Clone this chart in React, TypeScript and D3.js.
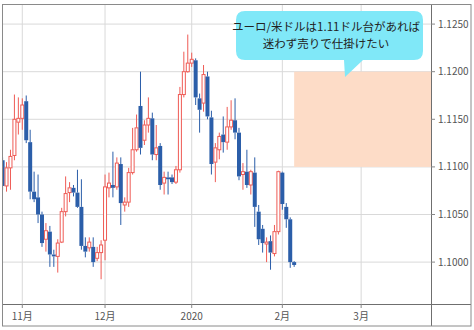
import React from "react";
import * as d3 from "d3";

// ---- data (EUR/USD daily) ----
const dates = [
  "2019-10-25","2019-10-28","2019-10-29","2019-10-30","2019-10-31","2019-11-01","2019-11-04","2019-11-05","2019-11-06","2019-11-07",
  "2019-11-08","2019-11-11","2019-11-12","2019-11-13","2019-11-14","2019-11-15","2019-11-18","2019-11-19","2019-11-20","2019-11-21",
  "2019-11-22","2019-11-25","2019-11-26","2019-11-27","2019-11-28","2019-11-29","2019-12-02","2019-12-03","2019-12-04","2019-12-05",
  "2019-12-06","2019-12-09","2019-12-10","2019-12-11","2019-12-12","2019-12-13","2019-12-16","2019-12-17","2019-12-18","2019-12-19",
  "2019-12-20","2019-12-23","2019-12-24","2019-12-25","2019-12-26","2019-12-27","2019-12-30","2019-12-31","2020-01-01","2020-01-02",
  "2020-01-03","2020-01-06","2020-01-07","2020-01-08","2020-01-09","2020-01-10","2020-01-13","2020-01-14","2020-01-15","2020-01-16",
  "2020-01-17","2020-01-20","2020-01-21","2020-01-22","2020-01-23","2020-01-24","2020-01-27","2020-01-28","2020-01-29","2020-01-30",
  "2020-01-31","2020-02-03","2020-02-04","2020-02-05","2020-02-06",
];
const opens = [
  1.1107,1.1080,1.1099,1.1112,1.1147,1.1151,1.1169,1.1126,1.1074,1.1068,
  1.1050,1.1024,1.1032,1.1008,1.1006,1.1021,1.1053,1.1073,1.1078,1.1073,
  1.1058,1.1017,1.1015,1.1016,1.1004,1.1010,1.1023,1.1078,1.1081,1.1079,
  1.1103,1.1060,1.1063,1.1094,1.1118,1.1164,1.1128,1.1144,1.1151,1.1113,
  1.1122,1.1083,1.1089,1.1089,1.1084,1.1097,1.1176,1.1200,1.1209,1.1212,
  1.1172,1.1167,1.1195,1.1152,1.1105,1.1118,1.1134,1.1126,1.1142,1.1149,
  1.1136,1.1092,1.1095,1.1081,1.1094,1.1053,1.1035,1.1019,1.1022,1.1009,
  1.1032,1.1094,1.1058,1.1045,1.1000,
];
const highs = [
  1.1110,1.1105,1.1118,1.1176,1.1173,1.1172,1.1175,1.1139,1.1095,1.1092,
  1.1053,1.1041,1.1038,1.1013,1.1024,1.1057,1.1090,1.1084,1.1081,1.1097,
  1.1087,1.1026,1.1026,1.1026,1.1016,1.1023,1.1092,1.1094,1.1116,1.1110,
  1.1110,1.1068,1.1099,1.1141,1.1155,1.1200,1.1149,1.1173,1.1157,1.1144,
  1.1125,1.1095,1.1095,1.1092,1.1101,1.1184,1.1221,1.1239,1.1220,1.1214,
  1.1177,1.1207,1.1200,1.1159,1.1125,1.1136,1.1153,1.1163,1.1170,1.1172,
  1.1141,1.1104,1.1118,1.1097,1.1110,1.1060,1.1039,1.1026,1.1028,1.1039,
  1.1096,1.1095,1.1062,1.1047,1.1001,
];
const lows = [
  1.1076,1.1074,1.1076,1.1107,1.1134,1.1139,1.1125,1.1066,1.1063,1.1041,
  1.1016,1.1011,1.0995,1.0995,1.0989,1.1020,1.1048,1.1063,1.1069,1.1057,
  1.1013,1.1005,1.1011,1.0995,1.1001,1.0982,1.1002,1.1068,1.1068,1.1076,
  1.1039,1.1053,1.1058,1.1092,1.1116,1.1113,1.1123,1.1136,1.1107,1.1107,
  1.1076,1.1071,1.1071,1.1082,1.1082,1.1094,1.1173,1.1199,1.1205,1.1165,
  1.1136,1.1158,1.1150,1.1092,1.1084,1.1108,1.1115,1.1118,1.1139,1.1129,
  1.1086,1.1076,1.1078,1.1071,1.1037,1.1018,1.1010,1.1000,1.0992,1.1006,
  1.1029,1.1055,1.1036,1.0994,1.0995,
];
const closes = [
  1.1080,1.1099,1.1111,1.1150,1.1151,1.1165,1.1128,1.1074,1.1066,1.1050,
  1.1020,1.1033,1.1008,1.1006,1.1020,1.1053,1.1072,1.1078,1.1073,1.1058,
  1.1017,1.1011,1.1021,1.1000,1.1010,1.1018,1.1079,1.1083,1.1078,1.1104,
  1.1062,1.1063,1.1094,1.1118,1.1141,1.1120,1.1144,1.1151,1.1113,1.1120,
  1.1081,1.1089,1.1087,1.1084,1.1097,1.1176,1.1200,1.1209,1.1213,1.1173,
  1.1160,1.1197,1.1153,1.1103,1.1120,1.1132,1.1126,1.1142,1.1149,1.1136,
  1.1090,1.1095,1.1081,1.1095,1.1058,1.1024,1.1020,1.1021,1.1010,1.1032,
  1.1095,1.1061,1.1045,1.1000,1.0997,
];

const yTicks = [1.1, 1.105, 1.11, 1.115, 1.12, 1.125];
const monthTickDates = ["2019-11-01", "2019-12-02", "2020-01-01", "2020-02-03", "2020-03-02"];
const monthTickLabels = ["11月", "12月", "2020", "2月", "3月"];

const zoneStartDate = "2020-02-06";
const zoneLow = 1.11;
const zoneHigh = 1.12;

const calloutLines = ["ユーロ/米ドルは1.11ドル台があれば", "迷わず売りで仕掛けたい"];

// ---- layout ----
const W = 474;
const H = 330;
const plotL = 2;
const plotR = 431;
const plotT = 4;
const plotB = 304;
const frameR = 471;
const frameB = 326;

const UP = "#ef5b55";
const DOWN = "#2b5ea9";

export default function App() {
  const parse = d3.timeParse("%Y-%m-%d");
  // trading-day calendar (all weekdays)
  const cal = d3
    .timeDay.range(parse("2019-10-20")!, parse("2020-04-10")!)
    .filter((d) => d.getDay() !== 0 && d.getDay() !== 6);
  const fmt = d3.timeFormat("%Y-%m-%d");
  const calIndex = new Map(cal.map((d, i) => [fmt(d), i]));
  const nov1 = calIndex.get("2019-11-01")!;

  const x = d3
    .scaleLinear()
    .domain([nov1 - 5.15, nov1 + 103.73])
    .range([plotL, plotR]);
  const y = d3.scaleLinear().domain([1.0956, 1.12711]).range([plotB, plotT]);

  const xi = (s: string) => x(calIndex.get(s)!);
  const bw = 3;

  const candles = dates.map((d, i) => ({
    d,
    o: opens[i],
    h: highs[i],
    l: lows[i],
    c: closes[i],
  }));

  const fontJP = "'Noto Sans CJK JP', 'Noto Sans', sans-serif";

  // callout geometry
  const cx0 = 236, cx1 = 423, cy0 = 11, cy1 = 60, r = 9;
  const tail = { bx0: 344, bx1: 363, tipX: 345, tipY: 77 };

  const calloutPath = [
    `M${cx0 + r},${cy0}`,
    `H${cx1 - r}`,
    `Q${cx1},${cy0} ${cx1},${cy0 + r}`,
    `V${cy1 - r}`,
    `Q${cx1},${cy1} ${cx1 - r},${cy1}`,
    `H${tail.bx1}`,
    `L${tail.tipX},${tail.tipY}`,
    `L${tail.bx0},${cy1}`,
    `H${cx0 + r}`,
    `Q${cx0},${cy1} ${cx0},${cy1 - r}`,
    `V${cy0 + r}`,
    `Q${cx0},${cy0} ${cx0 + r},${cy0}`,
    "Z",
  ].join(" ");

  return (
    <svg
      width={W}
      height={H}
      style={{ position: "absolute", left: 0, top: 0, background: "#fff" }}
    >
      <defs>
        <clipPath id="plot">
          <rect x={plotL} y={plotT} width={plotR - plotL} height={plotB - plotT} />
        </clipPath>
      </defs>
      <rect x={0} y={0} width={W} height={H} fill="#fff" />

      {/* grid */}
      {yTicks.map((t) => (
        <line key={"gy" + t} x1={plotL} x2={plotR} y1={y(t)} y2={y(t)} stroke="#d9d9d9" strokeWidth={1} />
      ))}
      {monthTickDates.map((t) => (
        <line key={"gx" + t} x1={xi(t)} x2={xi(t)} y1={plotT} y2={plotB} stroke="#d9d9d9" strokeWidth={1} />
      ))}

      {/* target zone */}
      <rect
        x={xi(zoneStartDate)}
        y={y(zoneHigh)}
        width={plotR - xi(zoneStartDate)}
        height={y(zoneLow) - y(zoneHigh)}
        fill="#fddcc7"
      />

      {/* candles */}
      <g clipPath="url(#plot)">
        {candles.map((k) => {
          const cx = xi(k.d);
          const up = k.c >= k.o;
          const col = up ? UP : DOWN;
          const top = y(Math.max(k.o, k.c));
          const bot = y(Math.min(k.o, k.c));
          const hgt = Math.max(1, bot - top);
          return (
            <g key={k.d}>
              <line x1={cx} x2={cx} y1={y(k.h)} y2={top} stroke={col} strokeWidth={1} />
              <line x1={cx} x2={cx} y1={bot} y2={y(k.l)} stroke={col} strokeWidth={1} />
              {up ? (
                <rect x={cx - bw / 2} y={top} width={bw} height={hgt} fill="#fff" stroke={col} strokeWidth={1} />
              ) : (
                <rect x={cx - bw / 2 - 0.5} y={top} width={bw + 1} height={hgt} fill={col} />
              )}
            </g>
          );
        })}
      </g>

      {/* axes */}
      <line x1={plotL} x2={frameR} y1={plotB + 0.5} y2={plotB + 0.5} stroke="#6f6f6f" />
      <line x1={plotR + 0.5} x2={plotR + 0.5} y1={plotT} y2={frameB} stroke="#6f6f6f" />
      {yTicks.map((t) => (
        <g key={"ty" + t}>
          <line x1={plotR} x2={plotR + 4} y1={y(t)} y2={y(t)} stroke="#888" />
          <text
            x={plotR + 7}
            y={y(t)}
            dy="0.35em"
            fontSize={10}
            fill="#555"
            fontFamily={fontJP}
          >
            {t.toFixed(4)}
          </text>
        </g>
      ))}
      {monthTickDates.map((t, i) => (
        <g key={"tx" + t}>
          <line x1={xi(t)} x2={xi(t)} y1={plotB} y2={plotB + 4} stroke="#888" />
          <text
            x={xi(t)}
            y={316}
            dy="0.35em"
            textAnchor="middle"
            fontSize={10}
            fill="#555"
            fontFamily={fontJP}
          >
            {monthTickLabels[i]}
          </text>
        </g>
      ))}

      {/* frame */}
      <rect x={2.5} y={4.5} width={frameR - 2.5} height={frameB - 4.5} fill="none" stroke="#8a8a8a" />

      {/* callout */}
      <path d={calloutPath} fill="#80e8f8" />
      {calloutLines.map((s, i) => (
        <text
          key={s}
          x={326}
          y={27 + i * 16.5}
          dy="0.35em"
          textAnchor="middle"
          fontSize={11.5}
          fill="#222"
          fontFamily={fontJP}
        >
          {s}
        </text>
      ))}
    </svg>
  );
}
